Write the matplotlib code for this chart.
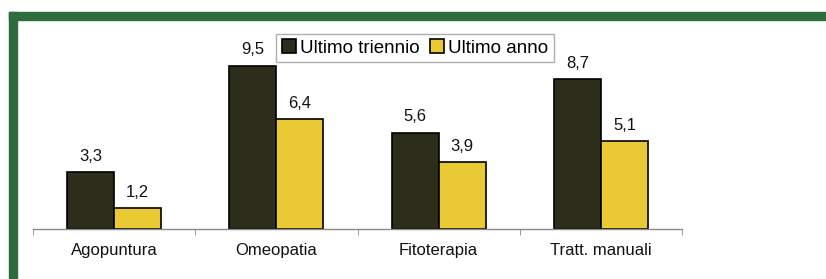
import matplotlib
matplotlib.use("Agg")
import matplotlib.pyplot as plt
from matplotlib.patches import Rectangle
import numpy as np

# dati
categorie = ["Agopuntura", "Omeopatia", "Fitoterapia", "Tratt. manuali"]
ultimo_triennio = [3.3, 9.5, 5.6, 8.7]
ultimo_anno = [1.2, 6.4, 3.9, 5.1]
serie = ["Ultimo triennio", "Ultimo anno"]

plt.rcParams["font.family"] = ["Liberation Sans", "DejaVu Sans"]

W, H = 826, 279
fig = plt.figure(figsize=(W / 100, H / 100), dpi=100)
fig.patch.set_facecolor("white")

# cornice verde (alto e sinistra)
verde = "#2f6b3b"
fig.patches.append(Rectangle((9 / W, (H - 20) / H), 1 - 9 / W, 8 / H,
                             transform=fig.transFigure, color=verde, zorder=0))
fig.patches.append(Rectangle((9 / W, 0), 8 / W, (H - 12) / H,
                             transform=fig.transFigure, color=verde, zorder=0))

ax = fig.add_axes([33 / W, 50 / H, 649 / W, 172 / H])
ax.set_xlim(-0.5, len(categorie) - 0.5)
ax.set_ylim(0, 10)

x = np.arange(len(categorie))
w = 0.29
b1 = ax.bar(x - w / 2, ultimo_triennio, w, color="#2c2e1b", edgecolor="black",
            linewidth=1.2, label=serie[0], clip_on=False)
b2 = ax.bar(x + w / 2, ultimo_anno, w, color="#e9c934", edgecolor="black",
            linewidth=1.2, label=serie[1], clip_on=False)

for bars in (b1, b2):
    for r in bars:
        v = r.get_height()
        ax.annotate(f"{v:.1f}".replace(".", ","),
                    (r.get_x() + r.get_width() / 2, v),
                    xytext=(0, 6), textcoords="offset points",
                    ha="center", va="bottom", fontsize=12, color="#111111",
                    annotation_clip=False)

for s in ("top", "right", "left"):
    ax.spines[s].set_visible(False)
ax.spines["bottom"].set_color("#8a8a8a")
ax.spines["bottom"].set_linewidth(1.0)
ax.set_yticks([])

ax.set_xticks(x)
ax.set_xticklabels(categorie, fontsize=12, color="#111111")
ax.tick_params(axis="x", which="major", length=0, pad=10)
ax.set_xticks(np.arange(-0.5, len(categorie)), minor=True)
ax.tick_params(axis="x", which="minor", length=4, color="#8a8a8a", direction="out")

leg = fig.legend(loc="center", bbox_to_anchor=(415 / W, (H - 48) / H),
                 ncol=2, fontsize=13.5, frameon=True, fancybox=False,
                 handlelength=0.75, handleheight=0.75, handletextpad=0.2,
                 columnspacing=0.6, borderpad=0.3, borderaxespad=0)
leg.get_frame().set_edgecolor("#9a9a9a")
leg.get_frame().set_linewidth(1.0)

fig.savefig("out.png", dpi=100)
